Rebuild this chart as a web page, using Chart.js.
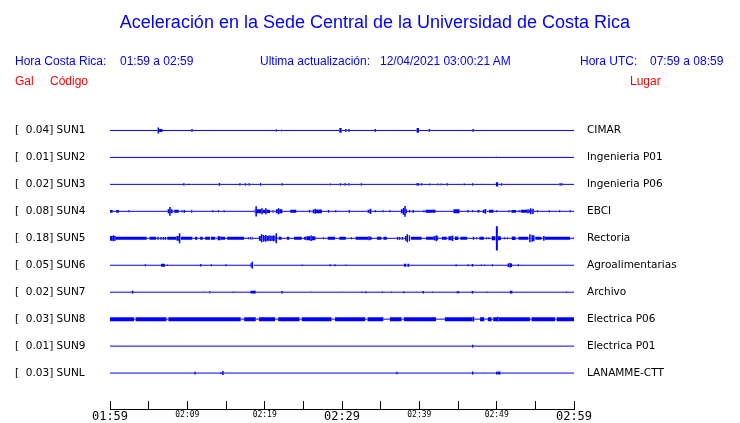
<!DOCTYPE html>
<html>
<head>
<meta charset="utf-8">
<script src="https://cdn.jsdelivr.net/npm/chart.js@4.4.0/dist/chart.umd.min.js"></script>
<style>
body { margin: 0; background: #fff; }
#wrap { position: relative; width: 740px; height: 423px; font-family: "Liberation Sans", Arial, sans-serif; }
#wrap canvas { position: absolute; left: 0; top: 0; }
#title { position: absolute; left: 0; top: 11px; width: 750px; text-align: center; font-size: 18px; line-height: 22px; color: #0000ff; }
.t { position: absolute; white-space: pre; font-size: 12px; line-height: 14px; color: #0000ff; }
.r { color: #ff0000; }
</style>
</head>
<body>
<div id="wrap">
  <canvas id="sismo" width="740" height="423"></canvas>
  <div id="title">Aceleración en la Sede Central de la Universidad de Costa Rica</div>
  <div class="t" style="left:15px;top:54px">Hora Costa Rica:</div>
  <div class="t" style="left:120px;top:54px">01:59 a 02:59</div>
  <div class="t" style="left:260px;top:54px">Ultima actualización:</div>
  <div class="t" style="left:380px;top:54px">12/04/2021 03:00:21 AM</div>
  <div class="t" style="left:580px;top:54px">Hora UTC:</div>
  <div class="t" style="left:650px;top:54px">07:59 a 08:59</div>
  <div class="t r" style="left:15px;top:74px">Gal</div>
  <div class="t r" style="left:50px;top:74px">Código</div>
  <div class="t r" style="left:630px;top:74px">Lugar</div>
</div>
<script>
// minutes after 01:59, one tick every 5 minutes, labels every 10
const minuteTicks = [0, 5, 10, 15, 20, 25, 30, 35, 40, 45, 50, 55, 60];
const tickLabels = ['01:59', '02:09', '02:19', '02:29', '02:39', '02:49', '02:59'];

const codes = ['SUN1', 'SUN2', 'SUN3', 'SUN4', 'SUN5', 'SUN6', 'SUN7', 'SUN8', 'SUN9', 'SUNL'];
const peaks = [0.04, 0.01, 0.02, 0.08, 0.18, 0.05, 0.02, 0.03, 0.01, 0.03];
const places = ['CIMAR', 'Ingenieria P01', 'Ingenieria P06', 'EBCI', 'Rectoria',
    'Agroalimentarias', 'Archivo', 'Electrica P06', 'Electrica P01', 'LANAMME-CTT'];

// events per station: [minute, gal] spike or [from, to, gal] burst
const sun1 = [[6.15, 0.045], [6.2, 6.8, 0.022], [10.5, 0.02], [21.4, 0.015], [22.1, 0.01],
    [29.65, 29.95, 0.035], [30.4, 0.02], [30.8, 0.02], [34.2, 0.02], [39.65, 39.95, 0.035],
    [41.2, 0.02], [46.85, 0.02]];
const sun2 = [[49.9, 0.01]];
const sun3 = [[9.45, 0.015], [10.0, 0.01], [10.2, 0.01], [14.05, 14.25, 0.02], [16.7, 0.015],
    [17.4, 0.015], [17.9, 0.015], [18.4, 0.01], [19.4, 19.55, 0.02], [22.15, 0.018], [28.4, 0.012],
    [29.7, 0.015], [30.3, 0.015], [30.8, 0.015], [32.4, 0.015], [39.6, 0.018], [39.8, 0.018],
    [40.2, 0.018], [41.25, 0.012], [42.3, 0.012], [42.7, 0.012], [43.5, 0.015], [45.7, 0.012],
    [46.8, 47.0, 0.018], [48.0, 0.01], [49.9, 50.2, 0.03], [50.55, 0.015], [58.1, 0.018], [58.35, 0.018]];
const sun4 = [[0, 0.35, 0.02], [0.8, 1.15, 0.02], [2.35, 0.015], [7.45, 8.1, 0.03], [7.65, 0.065],
    [8.3, 8.9, 0.022], [9.2, 0.015], [9.5, 0.02], [10.5, 10.65, 0.022], [13.2, 0.015], [13.9, 0.015],
    [14.65, 0.015], [18.7, 19.6, 0.03], [19.6, 20.7, 0.025], [18.8, 0.075], [19.55, 0.045],
    [20.05, 0.045], [21.0, 21.15, 0.02], [21.45, 22.3, 0.03], [21.7, 0.045], [23.3, 24.1, 0.022],
    [25.7, 0.018], [26.2, 27.4, 0.027], [26.45, 0.037], [28.2, 28.35, 0.02], [29.1, 0.015],
    [30.85, 0.02], [33.3, 33.8, 0.022], [33.6, 0.04], [34.2, 0.015], [35.2, 0.015], [36.1, 0.015],
    [37.6, 38.4, 0.03], [37.85, 0.05], [38.05, 0.08], [38.65, 0.018], [39.1, 0.02], [40.5, 40.7, 0.015],
    [40.8, 42.1, 0.022], [44.4, 45.2, 0.03], [46.2, 0.018], [46.8, 0.015], [47.5, 47.8, 0.018],
    [48.2, 48.7, 0.025], [48.45, 0.035], [49.0, 49.6, 0.022], [49.9, 0.015], [51.5, 0.015],
    [51.9, 52.5, 0.02], [52.8, 0.015], [53.1, 54.8, 0.022], [53.95, 0.03], [54.3, 0.045],
    [54.6, 0.04], [55.2, 0.015], [56.7, 0.015], [58.05, 0.015], [59.4, 0.015]];
const sun5 = [[0, 0.75, 0.035], [0.35, 0.045], [0.75, 4.75, 0.022], [5.1, 5.95, 0.022], [6.1, 6.3, 0.022],
    [6.5, 0.02], [6.8, 0.02], [7.05, 0.02], [7.4, 8.75, 0.022], [8.6, 9.15, 0.035], [8.9, 0.075],
    [9.15, 10.65, 0.022], [11.0, 11.3, 0.022], [11.65, 12.0, 0.022], [12.3, 12.95, 0.022], [13.05, 13.6, 0.022],
    [13.9, 14.3, 0.03], [14.3, 14.9, 0.022], [15.15, 17.35, 0.022], [17.8, 0.015], [18.05, 0.015],
    [18.3, 18.45, 0.022], [19.25, 21.55, 0.035], [19.5, 0.06], [19.75, 0.05], [20.05, 0.05],
    [20.45, 0.04], [20.7, 0.04], [21.05, 0.045], [21.4, 0.075], [21.8, 22.2, 0.022], [22.85, 23.2, 0.022],
    [23.8, 24.8, 0.022], [25.1, 26.6, 0.022], [25.4, 26.5, 0.03], [25.9, 0.04], [27.5, 0.015],
    [28.15, 29.1, 0.022], [29.65, 30.5, 0.022], [31.1, 0.015], [31.75, 33.85, 0.022], [33.4, 0.03],
    [34.5, 35.1, 0.022], [35.35, 35.8, 0.022], [37.1, 0.02], [37.35, 0.02], [37.7, 0.02],
    [38.15, 38.8, 0.035], [38.35, 0.06], [38.65, 0.045], [38.9, 40.3, 0.022], [40.85, 41.8, 0.022],
    [41.8, 42.45, 0.03], [42.1, 0.045], [42.9, 43.55, 0.022], [43.75, 44.4, 0.03], [44.2, 0.04],
    [44.6, 45.05, 0.025], [45.3, 46.2, 0.022], [46.9, 47.1, 0.022], [47.3, 0.015], [47.75, 48.35, 0.022],
    [48.6, 0.015], [48.9, 0.015], [49.35, 49.85, 0.03], [49.9, 50.15, 0.18], [50.15, 50.55, 0.03],
    [50.9, 0.015], [51.3, 0.015], [51.95, 52.45, 0.025], [52.8, 54.1, 0.022], [54.2, 0.06], [54.5, 0.05],
    [54.7, 0.04], [55.0, 55.8, 0.022], [56.0, 0.035], [56.1, 59.5, 0.022], [59.9, 0.015]];
const sun6 = [[4.45, 0.015], [6.6, 7.1, 0.022], [7.35, 0.01], [11.65, 11.85, 0.02], [13.0, 0.015],
    [14.9, 0.015], [18.15, 18.6, 0.03], [18.3, 0.05], [24.75, 0.012], [28.35, 0.015], [29.0, 0.015],
    [30.4, 0.01], [38.0, 38.3, 0.022], [38.45, 38.7, 0.022], [44.65, 0.015], [46.2, 0.015],
    [46.75, 47.0, 0.02], [47.9, 0.012], [48.35, 0.012], [49.35, 0.015], [51.4, 52.0, 0.025],
    [51.65, 0.035], [52.7, 0.015]];
const sun7 = [[2.8, 3.05, 0.02], [12.1, 0.01], [12.85, 13.0, 0.018], [15.8, 0.012], [16.15, 0.01],
    [18.15, 18.85, 0.02], [22.15, 0.018], [25.9, 0.01], [29.9, 0.01], [32.5, 0.012], [33.0, 0.015],
    [35.1, 0.012], [36.3, 0.012], [37.9, 0.015], [39.6, 0.01], [40.4, 40.6, 0.018], [41.6, 0.012],
    [44.8, 0.015], [45.0, 0.015], [46.75, 47.0, 0.018], [48.65, 0.012], [51.7, 52.05, 0.02], [58.95, 0.012]];
const sun8 = [[0, 3.1, 0.03], [3.3, 7.3, 0.03], [7.55, 16.9, 0.03], [17.35, 18.85, 0.03],
    [19.25, 21.35, 0.03], [21.75, 24.5, 0.03], [24.8, 28.65, 0.03], [29.1, 33.0, 0.03],
    [33.3, 35.35, 0.03], [36.2, 37.7, 0.03], [38.0, 42.15, 0.03], [43.3, 47.0, 0.03], [46.9, 0.035],
    [47.85, 48.4, 0.03], [48.85, 49.35, 0.03], [49.55, 54.3, 0.03], [50.05, 0.035],
    [54.5, 57.55, 0.03], [57.75, 60, 0.03]];
const sun9 = [[46.8, 0.02]];
const sunl = [[10.9, 0.02], [14.25, 0.012], [14.5, 0.03], [37.0, 0.018], [46.8, 47.0, 0.022],
    [48.15, 0.01], [49.9, 0.02], [50.1, 50.5, 0.022]];

const traces = [sun1, sun2, sun3, sun4, sun5, sun6, sun7, sun8, sun9, sunl];

const GAL_PER_ROW = 0.4;   // vertical gain: one row spacing = 0.4 gal
const SPIKE = 0.2;         // width of a single spike, minutes

// turn events into a step list of points; each point carries the amplitude of the segment after it
function toPoints(events, row) {
    const ev = events.map(e => e.length === 2 ? [e[0], e[0] + SPIKE, e[1]] : e);
    const cuts = [0, 60];
    ev.forEach(e => cuts.push(e[0], Math.min(e[1], 60)));
    const xs = [...new Set(cuts)].sort((a, b) => a - b);
    return xs.map((x, i) => {
        let a = 0;
        if (i < xs.length - 1) {
            const mid = (x + xs[i + 1]) / 2;
            ev.forEach(e => { if (mid > e[0] && mid < e[1]) a = Math.max(a, e[2]); });
        }
        return { x: x, y: row, a: a };
    });
}

function segWidth(ctx) {
    const p = ctx.chart.data.datasets[ctx.datasetIndex].data[ctx.p0DataIndex];
    const y = ctx.chart.scales.y;
    const h = Math.abs(y.getPixelForValue(p.a / GAL_PER_ROW) - y.getPixelForValue(0));
    return Math.max(1, 2 * h);
}

const rowTicks = s => { s.ticks = codes.map((c, i) => ({ value: i })); };
const labelFont = { family: 'DejaVu Sans', size: 10.5 };

new Chart(document.getElementById('sismo'), {
    type: 'line',
    data: {
        datasets: traces.map((ev, i) => ({
            label: codes[i],
            data: toPoints(ev, i),
            borderColor: '#0000ff',
            borderWidth: 1,
            borderCapStyle: 'butt',
            pointRadius: 0,
            tension: 0,
            segment: { borderWidth: segWidth }
        }))
    },
    options: {
        responsive: false,
        animation: false,
        devicePixelRatio: 1,
        layout: { padding: { left: 15, top: 103.5, right: 0, bottom: 0 } },
        plugins: { legend: { display: false }, tooltip: { enabled: false } },
        scales: {
            x: {
                type: 'linear', min: 0, max: 60,
                afterBuildTicks: s => { s.ticks = minuteTicks.map(v => ({ value: v })); },
                afterFit: s => { s.height = 14; },
                ticks: {
                    autoSkip: false, maxRotation: 0, padding: 9, color: '#000',
                    callback: v => v % 10 === 0 ? tickLabels[v / 10] : '',
                    font: c => ({ family: 'DejaVu Sans Mono', size: c.tick && c.tick.value % 30 === 0 ? 12 : 8 })
                },
                grid: { drawOnChartArea: false, tickLength: -8, color: '#000' },
                border: { color: '#000', width: 1 }
            },
            y: {
                type: 'linear', reverse: true, min: -1, max: 10.333,
                afterBuildTicks: rowTicks,
                afterFit: s => { s.width = 95; },
                ticks: {
                    autoSkip: false, crossAlign: 'far', padding: 0, color: '#000', font: labelFont,
                    callback: v => '[' + peaks[v].toFixed(2).padStart(6) + '] ' + codes[v]
                },
                grid: { display: false, drawTicks: false },
                border: { display: false }
            },
            y2: {
                type: 'linear', position: 'right', reverse: true, min: -1, max: 10.333,
                afterBuildTicks: rowTicks,
                afterFit: s => { s.width = 166; },
                // gap before the place names comes from a hidden tick length, not label padding
                ticks: { autoSkip: false, padding: 0, color: '#000', font: labelFont, callback: v => places[v] },
                grid: { display: false, drawTicks: true, tickLength: 13 },
                border: { display: false }
            }
        }
    }
});
</script>
</body>
</html>
